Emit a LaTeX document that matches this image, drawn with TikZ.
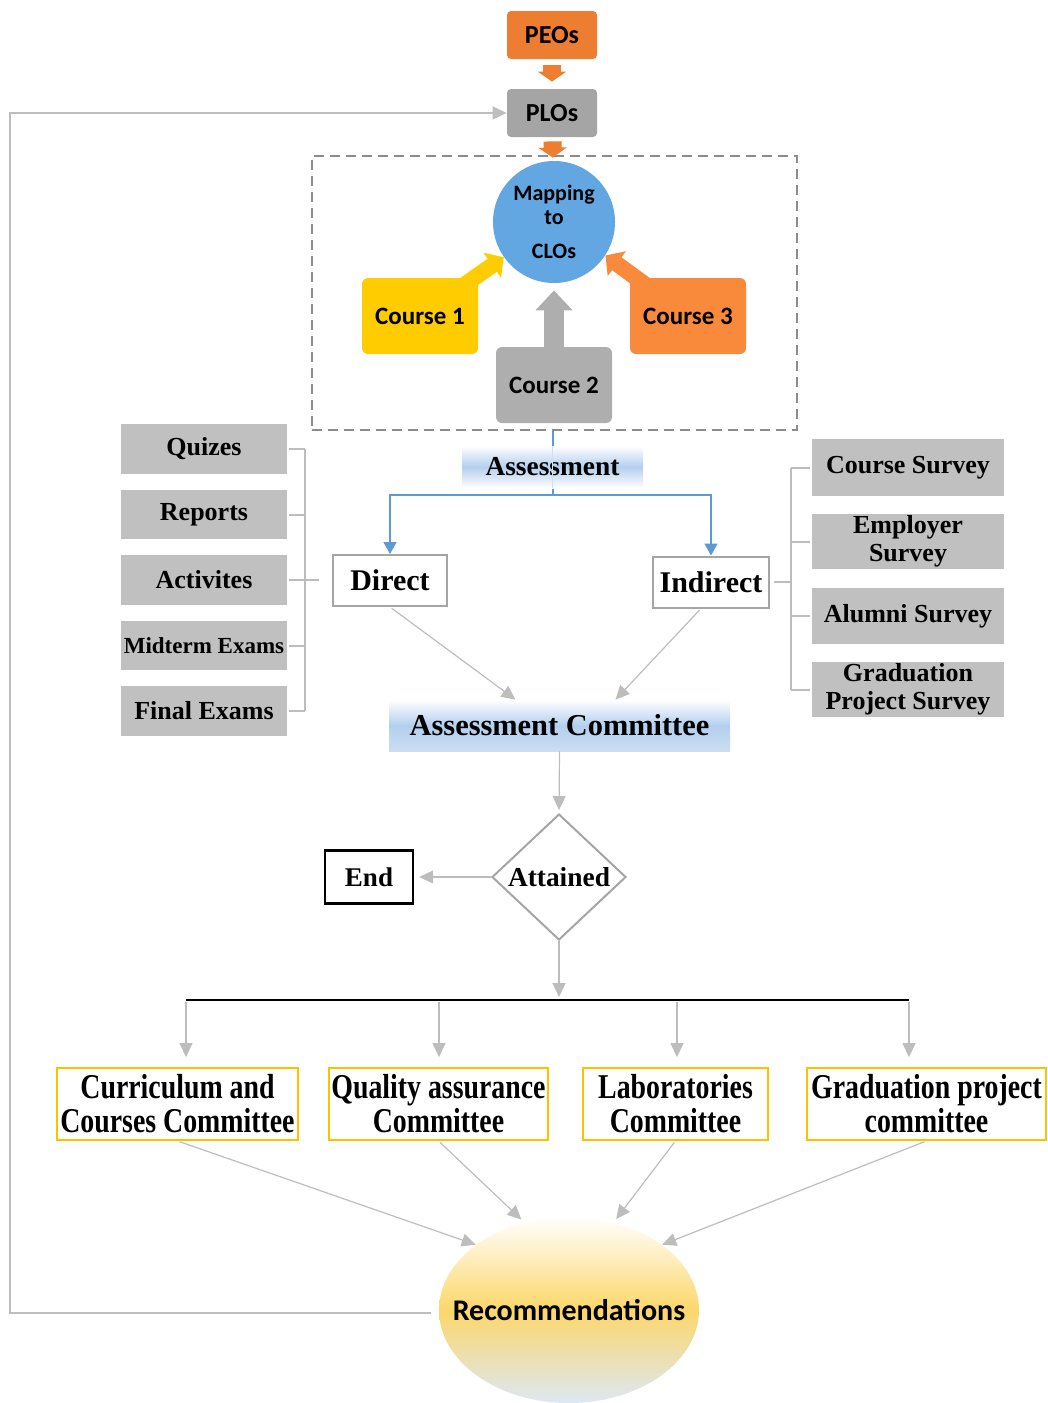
\documentclass[tikz,border=0pt]{standalone}
\usepackage{fontspec}
\setmainfont{Liberation Serif}
\newfontfamily\calib{Carlito}
\newfontfamily\cond[FakeStretch=0.8]{Liberation Serif}
\usetikzlibrary{arrows.meta,shapes.geometric}

\definecolor{peoorange}{HTML}{ED7D31}
\definecolor{plogray}{HTML}{A5A5A5}
\definecolor{mapblue}{HTML}{62A6E2}
\definecolor{cyellow}{HTML}{FFCC00}
\definecolor{corange}{HTML}{F9893B}
\definecolor{cgray}{HTML}{AEAEAE}
\definecolor{itemgray}{HTML}{C0C0C0}
\definecolor{linkgray}{HTML}{BDBDBD}
\definecolor{bluelink}{HTML}{5B9BD5}
\definecolor{asmtblue}{HTML}{B4CFEE}
\definecolor{cmtyellow}{HTML}{FFC000}
\definecolor{recyellow}{HTML}{FCD76A}
\definecolor{recblue}{HTML}{DDE8F4}

\tikzset{
  topbox/.style={rounded corners=2pt, font=\calib\bfseries\fontsize{13}{15}\selectfont, minimum width=45pt, minimum height=24pt},
  coursebox/.style={rounded corners=3pt, font=\calib\bfseries\fontsize{12.5}{15}\selectfont, minimum width=58pt, minimum height=38pt},
  item/.style={fill=itemgray, font=\bfseries\fontsize{13}{14}\selectfont, align=center, inner sep=0pt},
  choice/.style={draw=plogray, line width=1pt, fill=white, font=\bfseries\fontsize{15}{17}\selectfont, minimum width=57pt, minimum height=25.5pt},
  committee/.style={draw=cmtyellow, line width=1pt, fill=white, align=center, font=\cond\bfseries\fontsize{17.4}{17}\selectfont, minimum height=34pt, inner xsep=1pt},
  link/.style={draw=linkgray, line width=0.6pt, -{Triangle[width=6.5pt,length=7pt]}},
  bluelink/.style={draw=bluelink, line width=0.75pt, -{Triangle[width=6.5pt,length=6pt]}},
  bracket/.style={draw=linkgray, line width=1pt},
}

\begin{document}
\begin{tikzpicture}[x=0.5pt,y=-0.5pt]
\useasboundingbox (0,0) rectangle (1048,1403);

% objectives and mapping
\node[topbox, fill=peoorange] (peo) at (552,35) {PEOs};
\node[topbox, fill=plogray] (plo) at (552,113) {PLOs};
\node[draw=gray!90, dash pattern=on 5pt off 3pt, line width=1pt, minimum width=242.5pt, minimum height=137pt] (grp) at (554.5,293) {};
\node[circle, fill=mapblue, minimum size=61pt, inner sep=0pt, align=center, font=\calib\bfseries\fontsize{11}{12}\selectfont] (map) at (554,222) {Mapping\\to\\[5pt]CLOs};

\draw[peoorange, line width=9pt, -{Triangle[width=14pt,length=5pt]}, shorten <=3pt, shorten >=3.5pt] (peo) -- (plo);
\draw[peoorange, line width=9pt, -{Triangle[width=14pt,length=5pt]}, shorten <=2pt, shorten >=1.5pt] (plo) -- (map);

\draw[cyellow, line width=8pt, -{Triangle[width=15pt,length=7pt]}] (420,316) -- (map.215);
\draw[corange, line width=8pt, -{Triangle[width=15pt,length=7pt]}] (688,316) -- (map.-33);
\node[coursebox, fill=cyellow] (c1) at (420,316) {Course 1};
\node[coursebox, fill=corange] (c3) at (688,316) {Course 3};
\node[coursebox, fill=cgray] (c2) at (554,385) {Course 2};
\draw[cgray, line width=10pt, -{Triangle[width=18pt,length=10pt]}, shorten >=3.5pt] (c2) -- (map);

% assessment
\coordinate (split) at (553,495);
\draw[draw=bluelink, line width=0.75pt] (grp.south -| split) -- (split);
\node[top color=white, bottom color=white, middle color=asmtblue, minimum width=90.5pt, minimum height=21pt, font=\bfseries\fontsize{13.7}{15}\selectfont] (asmt) at (552.5,467) {Assessment};
\draw[draw=bluelink!30, line width=0.5pt] (asmt.north) -- (asmt.south);
\node[choice] (direct) at (390,580.5) {Direct};
\node[choice] (indirect) at (711,582) {Indirect};
\draw[bluelink] (split) -| (direct.north);
\draw[bluelink] (split) -| (indirect.north);

\node[item, minimum width=83pt, minimum height=25pt] (quiz) at (204,449) {Quizes};
\node[item, minimum width=83pt, minimum height=24.5pt] (rep) at (204,514.5) {Reports};
\node[item, minimum width=83pt, minimum height=25pt] (act) at (204,580) {Activites};
\node[item, minimum width=83pt, minimum height=24.5pt, font=\bfseries\fontsize{11.5}{13}\selectfont] (mid) at (204,645.5) {Midterm Exams};
\node[item, minimum width=83pt, minimum height=25pt] (fin) at (204,711) {Final Exams};

\node[item, minimum width=96pt, minimum height=28.5pt] (csur) at (908,467.5) {Course Survey};
\node[item, minimum width=96pt, minimum height=27.5pt] (esur) at (908,541.5) {Employer\\Survey};
\node[item, minimum width=96pt, minimum height=28pt] (asur) at (908,616) {Alumni Survey};
\node[item, minimum width=96pt, minimum height=27.5pt] (gsur) at (908,689.5) {Graduation\\Project Survey};

\coordinate (lbar) at (305,580);
\coordinate (rbar) at (791,580);
\foreach \n in {quiz,rep,act,mid,fin}
  \draw[bracket] ([xshift=1pt]\n.east) -- (\n.east -| lbar);
\draw[bracket] (quiz.east -| lbar) -- (fin.east -| lbar);
\draw[bracket] (act.east -| lbar) -- ([xshift=-6.5pt]direct.west |- act.east);
\foreach \n in {csur,esur,asur,gsur}
  \draw[bracket] ([xshift=-1pt]\n.west) -- (\n.west -| rbar);
\draw[bracket] (csur.west -| rbar) -- (gsur.west -| rbar);
\draw[bracket] ([xshift=2pt]indirect.east) -- (indirect.east -| rbar);

\node[top color=white, bottom color=asmtblue!70, middle color=asmtblue, minimum width=170.5pt, minimum height=25.5pt, font=\bfseries\fontsize{15.2}{17}\selectfont] (ac) at (559.5,725.5) {Assessment Committee};
\draw[link, shorten <=1pt] (direct.south) -- ([xshift=-22pt]ac.north);
\draw[link, shorten <=1pt] ([xshift=-5pt]indirect.south) -- ([xshift=28pt]ac.north);

% decision
\node[diamond, draw=plogray, line width=1pt, minimum width=67pt, minimum height=63pt, inner sep=0pt, font=\bfseries\fontsize{13.7}{15}\selectfont] (att) at (559,877) {Attained};
\node[draw=black, line width=1.2pt, minimum width=44pt, minimum height=26.5pt, font=\bfseries\fontsize{13.5}{15}\selectfont] (end) at (369,877) {End};
\draw[link, shorten >=1.5pt] (ac.south) -- (att.north);
\draw[link, shorten >=2.5pt] (att.west) -- (end.east);

\coordinate (bus) at (559,1000);
\coordinate (busl) at (186,1000);
\coordinate (busr) at (909,1000);
\draw[link, shorten >=1.5pt] (att.south) -- (bus);
\draw[line width=0.6pt] (busl) -- (busr);

% committees
\node[committee, minimum width=120.5pt] (cur) at (177.5,1104) {Curriculum and\\Courses Committee};
\node[committee, minimum width=109.5pt] (qa) at (438.5,1104) {Quality assurance\\Committee};
\node[committee, minimum width=92.5pt] (lab) at (675.5,1104) {Laboratories\\Committee};
\node[committee, minimum width=119.5pt] (gp) at (926.5,1104) {Graduation project\\committee};
\foreach \x/\n in {186/cur,439/qa,677/lab,909/gp}
  \draw[link, shorten <=1pt, shorten >=5pt] (\x,1000) -- (\x,1000 |- \n.north);

\node[ellipse, top color=white, bottom color=recblue, middle color=recyellow, minimum width=130pt, minimum height=93pt, inner xsep=-14pt, inner ysep=0pt, font=\calib\bfseries\fontsize{15}{17}\selectfont] (rec) at (569,1310) {\raisebox{-2.5pt}{Recommendations}};
\draw[link, shorten <=1pt] (cur.south) -- (rec.145);
\draw[link, shorten <=1pt, shorten >=2pt] (qa.south) -- (rec.117);
\draw[link, shorten <=1pt, shorten >=2pt] (lab.south) -- (rec.63);
\draw[link, shorten <=1pt] (gp.south) -- (rec.35);

% feedback loop
\coordinate (fb) at (10,700);
\draw[link, shorten <=4pt] ([yshift=-1.5pt]rec.west) -- ([yshift=-1.5pt]rec.west -| fb) -- (plo.west -| fb) -- (plo.west);
\end{tikzpicture}
\end{document}
